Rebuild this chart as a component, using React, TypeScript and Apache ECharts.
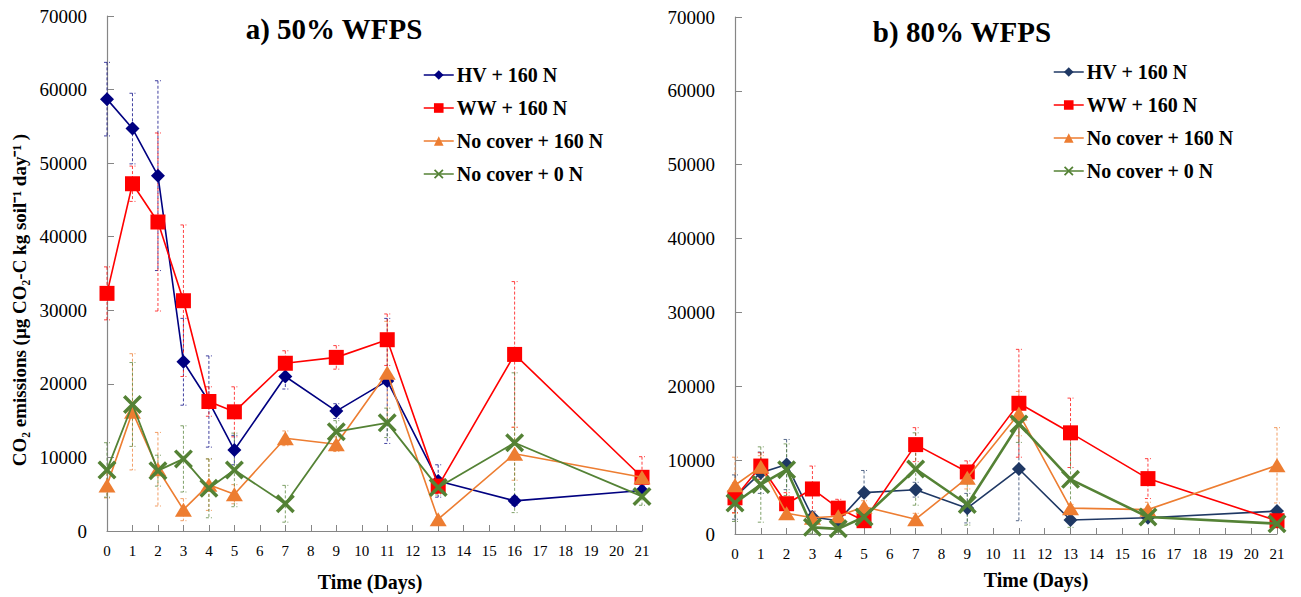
import React, { useEffect, useRef } from "react";
import * as echarts from "echarts";

const days = [0, 1, 2, 3, 4, 5, 7, 9, 11, 13, 16, 21];
const seriesNames = ["HV + 160 N", "WW + 160 N", "No cover + 160 N", "No cover + 0 N"];
const yTicks = [0, 10000, 20000, 30000, 40000, 50000, 60000, 70000];

// a) 50% WFPS
const hv50 = [58700, 54700, 48300, 23000, 17600, 11000, 21000, 16300, 20400, 6800, 4100, 5500];
const ww50 = [32300, 47200, 42000, 31300, 17600, 16200, 22800, 23600, 26000, 6100, 24000, 7300];
const nc160_50 = [6200, 16200, 8400, 2900, 6300, 5000, 12600, 11800, 21500, 1600, 10500, 7300];
const nc0_50 = [8300, 17200, 8200, 9800, 5800, 8300, 3700, 13500, 14700, 5900, 12000, 4700];
const hv50Err = [5000, 4800, 12900, 5900, 6200, 2000, 1700, 1000, 8500, 2200, 600, 600];
const ww50Err = [3600, 2400, 12100, 10300, 2000, 3400, 1700, 1600, 3500, 1000, 9900, 2800];
const nc160_50Err = [1700, 7900, 5000, 1500, 3500, 1300, 1000, 1000, 7000, 300, 3600, 800];
const nc0_50Err = [3700, 5700, 2100, 4500, 4000, 5000, 2500, 1500, 2000, 1000, 9500, 1200];

// b) 80% WFPS
const hv80 = [5000, 8300, 9400, 2300, 1800, 5600, 6000, 3500, 8800, 1900, 2200, 3100];
const ww80 = [4900, 9200, 4100, 6100, 3500, 1800, 12100, 8400, 17700, 13700, 7500, 1800];
const nc160_80 = [6600, 9100, 2800, 2200, 2400, 3700, 2000, 7600, 16300, 3500, 3300, 9300];
const nc0_80 = [4200, 6700, 8700, 900, 700, 2300, 8800, 4000, 14900, 7400, 2300, 1400];
const hv80Err = [3000, 2800, 3400, 800, 500, 3000, 1000, 2000, 7000, 300, 300, 500];
const ww80Err = [2000, 1800, 1500, 3100, 1200, 800, 2300, 1500, 7300, 4700, 2700, 400];
const nc160_80Err = [3800, 1500, 500, 500, 800, 800, 800, 1500, 3000, 500, 1000, 5100];
const nc0_80Err = [2500, 5100, 3500, 800, 500, 800, 4900, 2800, 2500, 6500, 500, 500];

const FONT = "'Liberation Serif', 'Times New Roman', serif";
const XPATH =
  "path://M0,2.6 L2.6,0 L10,7.4 L17.4,0 L20,2.6 L12.6,10 L20,17.4 L17.4,20 L10,12.6 L2.6,20 L0,17.4 L7.4,10 Z";

const colorsA = ["#000080", "#FF0000", "#ED7D31", "#548235"];
const colorsB = ["#1F3864", "#FF0000", "#ED7D31", "#548235"];
const symbols = ["diamond", "rect", "triangle", XPATH];
const symbolSizes: any[] = [[14, 14], [15, 15], [17, 14], [19, 19]];

function App() {
  const ref = useRef<HTMLDivElement>(null);
  useEffect(() => {
    if (!ref.current) return;
    const chart = echarts.init(ref.current, undefined, { renderer: "svg" });

    const panels = [
      { vals: [hv50, ww50, nc160_50, nc0_50], errs: [hv50Err, ww50Err, nc160_50Err, nc0_50Err], colors: colorsA, widths: [1.6, 1.6, 1.6, 1.8] },
      { vals: [hv80, ww80, nc160_80, nc0_80], errs: [hv80Err, ww80Err, nc160_80Err, nc0_80Err], colors: colorsB, widths: [1.6, 1.6, 1.6, 2.6] },
    ];

    const series: any[] = [];
    panels.forEach((p, pi) => {
      p.vals.forEach((vals, si) => {
        const color = p.colors[si];
        series.push({
          type: "custom",
          name: seriesNames[si] + " error " + pi,
          xAxisIndex: pi,
          yAxisIndex: pi,
          z: 1,
          silent: true,
          clip: false,
          data: days.map((d, i) => [d, vals[i], p.errs[si][i]]),
          encode: { x: 0, y: 1 },
          renderItem: (params: any, api: any) => {
            const x = api.value(0);
            const y = api.value(1);
            const e = api.value(2);
            const top = api.coord([x, y + e]);
            const bot = api.coord([x, Math.max(0, y - e)]);
            const w = 3;
            const style = { stroke: color, lineWidth: 1, lineDash: [3, 2], opacity: 0.75 };
            return {
              type: "group",
              children: [
                { type: "line", shape: { x1: top[0], y1: top[1], x2: bot[0], y2: bot[1] }, style },
                { type: "line", shape: { x1: top[0] - w, y1: top[1], x2: top[0] + w, y2: top[1] }, style },
                { type: "line", shape: { x1: bot[0] - w, y1: bot[1], x2: bot[0] + w, y2: bot[1] }, style },
              ],
            };
          },
        });
      });
      p.vals.forEach((vals, si) => {
        const color = p.colors[si];
        series.push({
          type: "line",
          name: seriesNames[si],
          xAxisIndex: pi,
          yAxisIndex: pi,
          z: 2 + si,
          data: days.map((d, i) => [d, vals[i]]),
          symbol: symbols[si],
          symbolSize: symbolSizes[si],
          showAllSymbol: true,
          clip: false,
          lineStyle: { color, width: p.widths[si] },
          itemStyle: { color },
        });
      });
    });

    const legendData = (colors: string[]) =>
      seriesNames.map((n, i) => ({
        name: n,
        itemStyle: { color: colors[i] },
        lineStyle: { color: colors[i], width: 1.5 },
      }));

    const xAxisBase = (gi: number) => ({
      type: "value",
      gridIndex: gi,
      min: 0,
      max: 21,
      interval: 1,
      axisLine: { lineStyle: { color: "#868686", width: 1.2 } },
      axisTick: { inside: true, length: 6, lineStyle: { color: "#868686" } },
      axisLabel: { color: "#000", fontFamily: FONT, fontSize: 15, margin: 12 },
      splitLine: { show: false },
    });
    const yAxisBase = (gi: number) => ({
      type: "value",
      gridIndex: gi,
      min: yTicks[0],
      max: yTicks[yTicks.length - 1],
      interval: yTicks[1] - yTicks[0],
      axisLine: { show: true, lineStyle: { color: "#868686", width: 1.2 } },
      axisTick: { show: true, inside: true, length: 7, lineStyle: { color: "#868686" } },
      axisLabel: {
        color: "#000",
        fontFamily: FONT,
        fontSize: 19,
        margin: 20,
        formatter: (v: number) => String(v),
      },
      splitLine: { show: false },
    });

    const legendBase = {
      orient: "vertical",
      itemWidth: 30,
      itemHeight: 12,
      itemGap: 13,
      padding: 0,
      textStyle: { fontFamily: FONT, fontSize: 20, fontWeight: "bold", color: "#000", lineHeight: 20, padding: [0, 0, 0, -2] },
      selectedMode: false,
    };

    const option: any = {
      animation: false,
      backgroundColor: "#ffffff",
      grid: [
        { left: 107, top: 16, width: 535, height: 515 },
        { left: 735, top: 17, width: 542, height: 517 },
      ],
      xAxis: [xAxisBase(0), xAxisBase(1)],
      yAxis: [yAxisBase(0), yAxisBase(1)],
      legend: [
        { ...legendBase, left: 423, top: 65, data: legendData(colorsA) },
        { ...legendBase, left: 1053, top: 62, data: legendData(colorsB) },
      ],
      graphic: [
        {
          type: "text",
          x: 334,
          y: 29,
          style: { text: "a) 50% WFPS", font: `bold 29px ${FONT}`, fill: "#000", textAlign: "center", textVerticalAlign: "middle" },
        },
        {
          type: "text",
          x: 962,
          y: 32,
          style: { text: "b) 80% WFPS", font: `bold 29px ${FONT}`, fill: "#000", textAlign: "center", textVerticalAlign: "middle" },
        },
        {
          type: "text",
          x: 370,
          y: 582,
          style: { text: "Time (Days)", font: `bold 20px ${FONT}`, fill: "#000", textAlign: "center", textVerticalAlign: "middle" },
        },
        {
          type: "text",
          x: 1036,
          y: 580,
          style: { text: "Time (Days)", font: `bold 20px ${FONT}`, fill: "#000", textAlign: "center", textVerticalAlign: "middle" },
        },
        {
          type: "text",
          x: 19,
          y: 300,
          rotation: Math.PI / 2,
          style: {
            text: "CO\u2082 emissions (\u00b5g CO\u2082-C kg soil\u207b\u00b9 day\u207b\u00b9 )",
            font: `bold 19px ${FONT}`,
            fill: "#000",
            textAlign: "center",
            textVerticalAlign: "middle",
          },
        },
      ],
      series,
    };
    chart.setOption(option);
    return () => chart.dispose();
  }, []);

  return (
    <div
      ref={ref}
      style={{ position: "fixed", left: 0, top: 0, width: 1301, height: 597, background: "#fff" }}
    />
  );
}

export default App;
